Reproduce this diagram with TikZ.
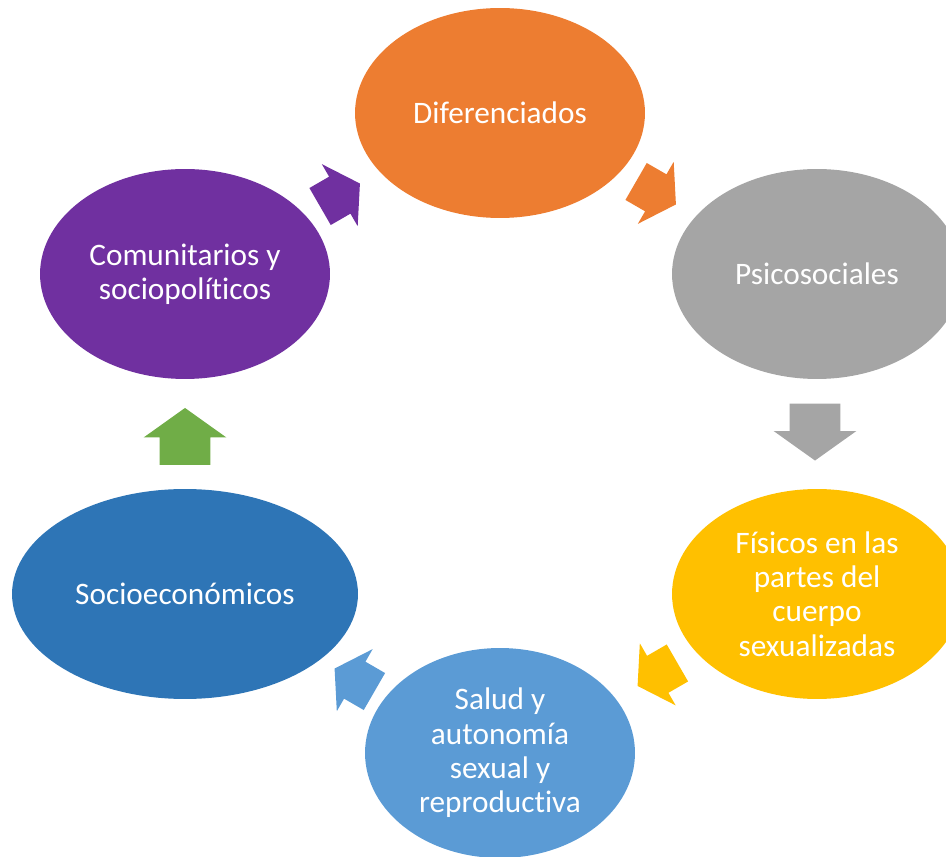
\documentclass[tikz,border=0pt]{standalone}
\usepackage{fontspec}
\setmainfont{Carlito}[Ligatures=NoCommon]
\usepackage{tikz}
\usetikzlibrary{shapes.geometric, shapes.arrows, calc}

\definecolor{cOrange}{HTML}{ED7D31}
\definecolor{cGray}{HTML}{A5A5A5}
\definecolor{cGold}{HTML}{FFC000}
\definecolor{cLightBlue}{HTML}{5B9BD5}
\definecolor{cBlue}{HTML}{2E75B6}
\definecolor{cPurple}{HTML}{7030A0}
\definecolor{cGreen}{HTML}{70AD47}

\begin{document}
\begin{tikzpicture}[x=0.02cm, y=-0.02cm,
    bubble/.style={ellipse, fill=#1, text=white, inner sep=0pt, minimum width=5.8cm, minimum height=4.2cm, align=center, font=\fontsize{17.8}{19.5}\selectfont},
    flow/.style={single arrow, fill=#1, inner xsep=0pt, inner ysep=0.42cm, minimum height=0.92cm, minimum width=1.42cm, single arrow head extend=0.29cm, single arrow tip angle=114},
    bigflow/.style={flow=#1, inner ysep=0.5cm, minimum height=1.14cm, minimum width=1.64cm, single arrow head extend=0.32cm, single arrow tip angle=109}]

    \clip (0,0) rectangle (946,857);

    \node [bubble=cOrange] (dif) at (500,113) {Diferenciados};
    \node [bubble=cGray] (psi) at (817,274) {Psicosociales};
    \node [bubble=cGold] (fis) at (817,594) {Físicos en las\\partes del\\cuerpo\\sexualizadas};
    \node [bubble=cLightBlue, minimum width=5.4cm] (sal) at (500,753) {Salud y\\autonomía\\sexual y\\reproductiva};
    \node [bubble=cBlue, minimum width=6.92cm] (soc) at (185,594) {Socioeconómicos};
    \node [bubble=cPurple] (com) at (185,274) {Comunitarios y\\sociopolíticos};

    \node [flow=cPurple, rotate=30] (a1) at ($(com)!0.5!(dif)+(-8.5,5)$) {};
    \node [flow=cOrange, rotate=-30] (a2) at ($(dif)!0.5!(psi)+(-8.5,-4)$) {};
    \node [bigflow=cGray, rotate=-90] (a3) at ($(psi)!0.5!(fis)+(-2,-11)$) {};
    \node [flow=cGold, rotate=-150] (a4) at ($(fis)!0.5!(sal)+(5,-2.5)$) {};
    \node [flow=cLightBlue, rotate=150] (a5) at ($(sal)!0.5!(soc)+(18,10)$) {};
    \node [bigflow=cGreen, rotate=90] (a6) at ($(soc)!0.5!(com)+(0,11.5)$) {};
\end{tikzpicture}
\end{document}
